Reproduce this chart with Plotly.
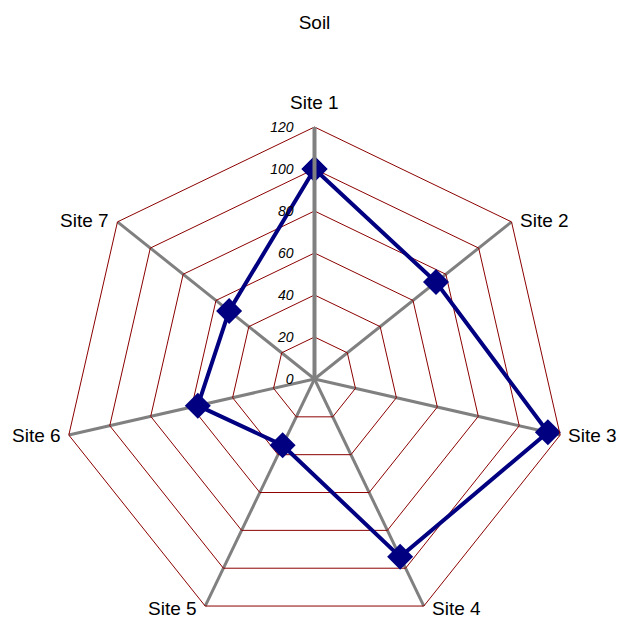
import math
import plotly.graph_objects as go

sites = ["Site 1", "Site 2", "Site 3", "Site 4", "Site 5", "Site 6", "Site 7"]
soil = [100, 74, 114, 94, 35, 57, 52]
tick_vals = [0, 20, 40, 60, 80, 100, 120]
title_text = "Soil"

W, H = 619, 650
cx, cy, R = 314.5, 379.0, 252.0
FONT = "Liberation Sans, Arial, sans-serif"

fig = go.Figure()
fig.add_trace(go.Scatterpolar(
    r=soil + [soil[0]],
    theta=sites + [sites[0]],
    mode="lines+markers",
    line=dict(color="#000080", width=4),
    marker=dict(symbol="diamond", size=20, color="#000080"),
    showlegend=False,
))

# category labels placed at the polygon vertices (outer edge of the polar area)
annotations = []
n = len(sites)
for i, name in enumerate(sites):
    ang = math.radians(90 - i * 360 / n)
    c, s = math.cos(ang), math.sin(ang)
    px = cx + R * c
    py = cy - R * s
    ys = 3 * s
    if abs(c) < 1e-6:
        xa, xs, ya, ys = "center", 0, "bottom", 13
    elif c > 0:
        xa, xs, ya = "left", 7, "middle"
    else:
        xa, xs, ya = "right", -7, "middle"
    annotations.append(dict(
        text=name, xref="paper", yref="paper",
        x=px / W, y=(H - py) / H, xanchor=xa, yanchor=ya,
        xshift=xs, yshift=ys, showarrow=False, borderpad=0,
        font=dict(family=FONT, size=19, color="black"),
    ))

fig.update_layout(
    width=W, height=H,
    margin=dict(l=0, r=0, t=0, b=0),
    paper_bgcolor="white",
    font=dict(family=FONT, size=19, color="black"),
    title=dict(text=title_text, x=cx / W, xanchor="center", y=1 - 22 / H, yanchor="middle",
               font=dict(family=FONT, size=19, color="black")),
    annotations=annotations,
    polar=dict(
        domain=dict(x=[(cx - R) / W, (cx + R) / W], y=[(H - cy - R) / H, (H - cy + R) / H]),
        bgcolor="white",
        gridshape="linear",
        angularaxis=dict(
            direction="clockwise", rotation=90,
            showline=True, linecolor="#8B0000", linewidth=1,
            gridcolor="#808080", gridwidth=3,
            ticks="", showticklabels=False,
        ),
        radialaxis=dict(
            range=[0, 120], tickvals=tick_vals, ticktext=[str(v) for v in tick_vals],
            angle=90, tickangle=90, side="counterclockwise",
            showline=True, linecolor="#808080", linewidth=4,
            gridcolor="#8B0000", gridwidth=1,
            ticks="outside", ticklen=14, tickcolor="rgba(0,0,0,0)",
            tickfont=dict(family=FONT, size=14, color="black", style="italic"),
        ),
    ),
)

fig.write_html("out.html")
